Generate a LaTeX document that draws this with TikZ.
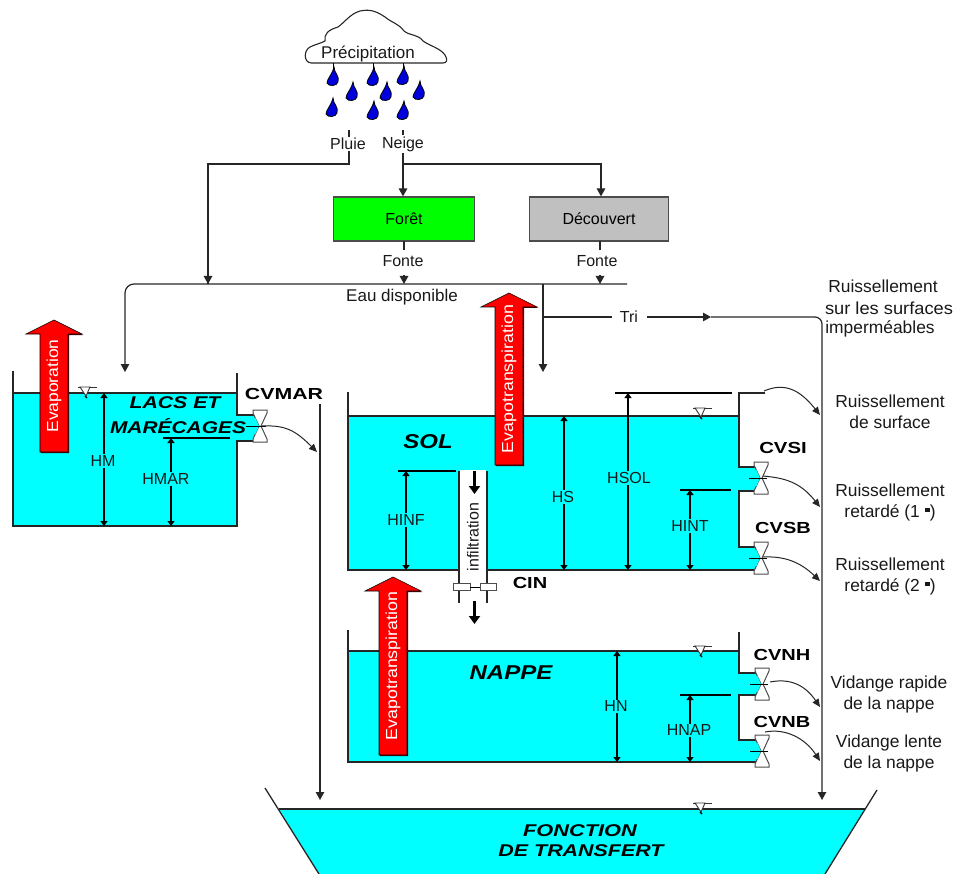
\documentclass[tikz,border=0pt]{standalone}
\usepackage{fontspec}
\usepackage{graphicx}
\setmainfont{Liberation Sans}
\usetikzlibrary{arrows.meta,calc}
\definecolor{water}{RGB}{0,255,255}
\definecolor{greenbox}{RGB}{0,255,0}
\definecolor{greybox}{RGB}{192,192,192}
\definecolor{dropblue}{RGB}{0,0,220}
\newcommand{\wide}[2]{\scalebox{#1}[1]{#2}}
\newcommand{\blob}{\raisebox{5pt}{\rule{5pt}{4pt}}}
\newcommand{\redarr}[6]{% name, x centre, tip y, bottom y, text, text y
  \path[fill=black!70!red] (#2+1,#3+1) -- (#2+29,#3+15) -- (#2+15,#3+15) -- (#2+15,#4+1) -- (#2-13,#4+1) -- cycle;
  \draw[fill=red,draw=black,line width=.6pt] (#2,#3) -- (#2+28,#3+14) -- (#2+14,#3+14) -- (#2+14,#4) -- (#2-14,#4) -- (#2-14,#3+14) -- (#2-28,#3+14) -- cycle;
  \node[txt,text=white,rotate=90] (#1) at (#2,#6) {#5};
}
\tikzset{
  txt/.style={font=\fontsize{16}{18}\selectfont,inner sep=1pt,text=black!90},
  biglab/.style={txt,font=\fontsize{17.4}{19}\selectfont},
  boldlab/.style={font=\fontsize{16}{18}\selectfont\bfseries,inner sep=0pt},
  tanktitle/.style={font=\fontsize{17}{19}\selectfont\bfseries\itshape,inner sep=0pt},
  bigtitle/.style={font=\fontsize{20}{22}\selectfont\bfseries\itshape,inner sep=0pt},
  wall/.style={draw=black!85,line width=1.3pt},
  conn/.style={draw=black!85,line width=1.2pt},
  arr/.style={conn,-{Triangle[width=8.5pt,length=8pt]}},
  fat/.style={draw=black,line width=3pt,-{Triangle[width=11pt,length=8pt]}},
  dimen/.style={draw=black,line width=1.2pt,{Triangle[width=7pt,length=5pt]}-{Triangle[width=7pt,length=5pt]}},
  dimlab/.style={txt,fill=water,inner sep=1pt},
  procbox/.style={draw=black!70,line width=1.2pt,minimum height=44pt,font=\fontsize{16}{18}\selectfont,inner sep=0pt},
  outflow/.style={draw=black!85,line width=1pt,-{Triangle[width=7pt,length=8pt]}},
  valve/.pic={
    \draw[draw=black!70,fill=white,line width=1pt] (-7,-16) -- (7,-16) -- (7,-13) -- (1,0) -- (7,13) -- (7,16) -- (-7,16) -- (-7,13) -- (-1,0) -- (-7,-13) -- cycle;
    \path[fill=water] (-1,0) -- (-5,-9) -- (-5,9) -- cycle;
    \draw[black,line width=1pt] (-12,0) -- (6,0);
  },
  drop/.pic={
    \draw[fill=dropblue,draw=black,line width=.8pt] (1,-12) .. controls (1,-6) and (7,-3) .. (5,3) .. controls (4,7) and (-4,8) .. (-6,4) .. controls (-6,0) and (-1,-4) .. (1,-12) -- cycle;
  },
  level/.pic={
    \draw[black!80,line width=1pt] (-9,0) -- (10,0);
    \draw[black!80,fill=white,line width=.9pt] (-7,0) -- (3,0) -- (-1,9) -- cycle;
    \draw[black,line width=1.4pt] (-2,9) -- (0,11);
  }
}
\begin{document}
\begin{tikzpicture}[x=1pt,y=-1pt]
\useasboundingbox (0,0) rectangle (955,874);

% ---- water bodies
\path[fill=water] (13,393) rectangle (237,526);
\path[fill=water] (237,415) rectangle (259,441);
\path[fill=water] (348,416) rectangle (739,570);
\path[fill=water] (739,467) rectangle (760,491);
\path[fill=water] (739,547) rectangle (760,570);
\path[fill=water] (348,651) rectangle (739,762);
\path[fill=water] (739,673) rectangle (760,695);
\path[fill=water] (739,740) rectangle (760,762);
\path[fill=water] (279,809) -- (865,809) -- (825,874) -- (319,874) -- cycle;

% ---- cloud
\draw[draw=black!85,fill=white,line width=1.1pt] (311,63) .. controls (303,62) and (304,50) .. (310,47) .. controls (316,44) and (322,43) .. (325,41) .. controls (324,34) and (328,30) .. (338,27) .. controls (345,22) and (350,14) .. (360,11) .. controls (370,9) and (376,11) .. (385,17) .. controls (392,23) and (398,23) .. (404,31) .. controls (410,36) and (418,34) .. (423,41) .. controls (430,46) and (440,48) .. (445,55) .. controls (448,60) and (447,63) .. (443,63) -- cycle;
\node[txt,font=\fontsize{17}{18}\selectfont] (prec) at (368,54) {Précipitation};

% ---- drops
\draw[black,line width=1pt] (333,63) -- (333,72) (373,63) -- (373,70) (403,63) -- (403,70);
\foreach \dx/\dy in {333/79,373/79,403/78,352/94,386/94,419/93,332/110,373/113,403/113}
  \pic at (\dx,\dy) {drop};

% ---- top labels and feeders
\node[txt] (pluie) at (348,144) {Pluie};
\node[txt] (neige) at (403,144) {Neige};
\coordinate (ptick) at (349,130);
\coordinate (ntick) at (403,130);
\draw[conn] (ptick) -- (pluie.north-|ptick);
\draw[conn] (ntick) -- (neige.north);
\node[procbox,fill=greenbox,minimum width=141pt] (foret) at (404,219) {Forêt};
\node[procbox,fill=greybox,minimum width=139pt] (decouvert) at (599,219) {Découvert};
\node[txt] (fonte1) at (403,261) {Fonte};
\node[txt] (fonte2) at (597,261) {Fonte};
\coordinate (bus) at (627,284);
\coordinate (pluieelbow) at (208,164);
\coordinate (buspluie) at (208,284);
\coordinate (neigeelbow) at (403,164);
\coordinate (decelbow) at (601,164);
\coordinate (busL) at (125,284);
\coordinate (lakein) at (125,372);
\coordinate (solin) at (543,372);
\coordinate (busS) at (543,284);
\coordinate (triS) at (543,317);
\coordinate (f1top) at (404,241);
\coordinate (f1bot) at (404,250);
\coordinate (f1st) at (404,275);
\coordinate (f1bus) at (404,284);
\coordinate (f2top) at (600,241);
\coordinate (f2bot) at (600,250);
\coordinate (f2st) at (600,275);
\coordinate (f2bus) at (600,284);
\draw[conn] (pluie.south-|ptick) -- (ptick|-pluieelbow) -- (pluieelbow) -- (buspluie);
\draw[arr] (buspluie) ++(0,-8) -- (buspluie);
\draw[arr] (neige.south) -- (foret.north-|neige.south);
\draw[arr] (neigeelbow) -- (decelbow) -- (decouvert.north-|decelbow);
\draw[conn] (f1top) -- (f1bot);
\draw[conn] (f2top) -- (f2bot);
\draw[arr] (f1st) -- (f1bus);
\draw[arr] (f2st) -- (f2bus);
\draw[conn,rounded corners=9pt,-{Triangle[width=8.5pt,length=8pt]}] (bus) -- (busL) -- (lakein);
\draw[arr] (busS) -- (solin);
\node[txt,font=\fontsize{17}{18}\selectfont] (eau) at (402,297) {Eau disponible};

% ---- Tri line
\node[txt] (tri) at (629,317) {Tri};
\coordinate (trigapA) at (612,317);
\coordinate (trigapB) at (647,317);
\coordinate (trimid) at (711,317);
\coordinate (triend) at (822,800);
\coordinate (tricorner) at (822,317);
\draw[conn] (triS) -- (trigapA);
\draw[arr] (trigapB) -- (trimid);
\draw[conn,rounded corners=7pt,-{Triangle[width=8.5pt,length=8pt]}] (trimid) -- (tricorner) -- (triend);
\node[biglab] (imp1) at (883,286) {Ruissellement};
\node[biglab] (imp2) at (889,308) {\wide{1.05}{sur les surfaces}};
\node[biglab] (imp3) at (880,329) {imperméables};

% ---- lake tank
\coordinate (l1) at (13,371);
\coordinate (l2) at (13,526);
\coordinate (l3) at (237,526);
\coordinate (l4) at (237,441);
\coordinate (l5) at (256,441);
\coordinate (l6) at (256,415);
\coordinate (l7) at (237,415);
\coordinate (l8) at (237,373);
\draw[wall] (l1) -- (l2) -- (l3) -- (l4) -- (l5);
\draw[wall] (l6) -- (l7) -- (l8);
\draw[wall] (13,393) -- (237,393);
\redarr{evap}{54}{320}{452}{\wide{1.09}{Evaporation}}{386}
\pic at (87,387) {level};
\coordinate (hmT) at (104,393);
\coordinate (hmB) at (104,526);
\draw[dimen] (hmT) -- (hmB);
\node[dimlab] (hm) at (103,461) {HM};
\coordinate (hmarT) at (171,438);
\coordinate (hmarB) at (171,526);
\draw[black,line width=1.2pt] (163,438) -- (230,438);
\draw[dimen] (hmarT) -- (hmarB);
\node[dimlab] (hmar) at (166,479) {HMAR};
\node[tanktitle] (lacs) at (175,403) {\wide{1.25}{LACS ET}};
\node[tanktitle] (mar) at (178,426) {\wide{1.23}{MARÉCAGES}};
\pic at (260,426) {valve};
\draw[black,line width=1pt] (mar.east) -- (250,426);
\node[boldlab] (cvmar) at (284,394) {\wide{1.33}{CVMAR}};
\coordinate (marA) at (262,426);
\coordinate (marB) at (317,452);
\draw[outflow] (marA) .. controls (285,425) and (295,430) .. (marB);
\coordinate (marS) at (320,404);
\coordinate (marE) at (320,800);
\draw[arr] (marS) -- (marE);

% ---- sol tank
\coordinate (s1) at (348,392);
\coordinate (s2) at (348,570);
\coordinate (s3) at (756,570);
\draw[wall] (s1) -- (s2) -- (s3);
\draw[wall] (348,416) -- (739,416);
\draw[wall] (765,393) -- (739,393) -- (739,467) -- (756,467);
\draw[wall] (756,491) -- (739,491) -- (739,547) -- (756,547);
\draw[black,line width=1.2pt] (615,393) -- (732,393);
\pic at (702,408) {level};
\redarr{evapo1}{509}{293}{465}{\wide{1.11}{Evapotranspiration}}{379}
% infiltration column
\path[fill=white] (460,470) rectangle (486,586);
\draw[wall] (459,471) -- (459,603);
\draw[wall] (487,471) -- (487,603);
\coordinate (f1a) at (474.5,471);
\coordinate (f1b) at (474.5,494);
\draw[fat] (f1a) -- (f1b);
\node[txt,rotate=90] (infil) at (473,537) {infiltration};
\draw[black!70,fill=white,line width=.9pt] (453,583.5) rectangle (470,590.5);
\draw[black!70,fill=white,line width=.9pt] (480,583.5) rectangle (496,590.5);
\draw[black,line width=1pt] (470,587) -- (480,587);
\coordinate (f2a) at (474.5,601);
\coordinate (f2b) at (474.5,624);
\draw[fat] (f2a) -- (f2b);
\node[boldlab] (cin) at (530,583) {\wide{1.25}{CIN}};
\node[bigtitle] (sol) at (428,442) {\wide{1.2}{SOL}};

\draw[black,line width=1.2pt] (398,471) -- (456,471);
\coordinate (hiT) at (406,471);
\coordinate (hiB) at (406,570);
\draw[dimen] (hiT) -- (hiB);
\node[dimlab] (hinf) at (406,520) {HINF};
\coordinate (hsT) at (564,416);
\coordinate (hsB) at (564,570);
\draw[dimen] (hsT) -- (hsB);
\node[dimlab] (hs) at (563,497) {HS};
\coordinate (hsolT) at (628,393);
\coordinate (hsolB) at (628,570);
\draw[dimen] (hsolT) -- (hsolB);
\node[dimlab] (hsol) at (629,478) {HSOL};
\draw[black,line width=1.2pt] (680,490) -- (731,490);
\coordinate (hintT) at (690,490);
\coordinate (hintB) at (690,570);
\draw[dimen] (hintT) -- (hintB);
\node[dimlab] (hint) at (690,526) {HINT};
\pic at (761,478) {valve};
\pic at (761,558) {valve};
\node[boldlab] (cvsi) at (783,448) {\wide{1.27}{CVSI}};
\node[boldlab] (cvsb) at (783,528) {\wide{1.25}{CVSB}};
\coordinate (o1a) at (764,391);
\coordinate (o1b) at (820,415);
\coordinate (o2a) at (763,476);
\coordinate (o2b) at (820,507);
\coordinate (o3a) at (763,557);
\coordinate (o3b) at (820,581);
\draw[outflow] (o1a) .. controls (785,382) and (800,390) .. (o1b);
\draw[outflow] (o2a) .. controls (785,478) and (800,482) .. (o2b);
\draw[outflow] (o3a) .. controls (785,556) and (800,562) .. (o3b);
\node[biglab,align=center] (r1) at (890,411.5) {Ruissellement\\[2pt]de surface};
\node[biglab,align=center] (r2) at (890,502) {Ruissellement\\[2pt]retardé (1 \blob)};
\node[biglab,align=center] (r3) at (890,576) {Ruissellement\\[2pt]retardé (2 \blob)};

% ---- nappe tank
\coordinate (n1) at (348,630);
\coordinate (n2) at (348,762);
\coordinate (n3) at (756,762);
\draw[wall] (n1) -- (n2) -- (n3);
\draw[wall] (348,651) -- (739,651);
\draw[wall] (739,632) -- (739,673) -- (756,673);
\draw[wall] (756,695) -- (739,695) -- (739,740) -- (756,740);
\pic at (702,646) {level};
\redarr{evapo2}{393}{577}{755}{\wide{1.11}{Evapotranspiration}}{666}
\node[bigtitle] (nappe) at (511,673) {\wide{1.2}{NAPPE}};
\coordinate (hnT) at (617,651);
\coordinate (hnB) at (617,762);
\draw[dimen] (hnT) -- (hnB);
\node[dimlab] (hn) at (616,706) {HN};
\draw[black,line width=1.2pt] (680,695) -- (731,695);
\coordinate (hnapT) at (690,695);
\coordinate (hnapB) at (690,762);
\draw[dimen] (hnapT) -- (hnapB);
\node[dimlab] (hnap) at (689,730) {HNAP};
\pic at (762,684) {valve};
\pic at (762,751) {valve};
\node[boldlab] (cvnh) at (782,655) {\wide{1.25}{CVNH}};
\node[boldlab] (cvnb) at (782,722) {\wide{1.25}{CVNB}};
\coordinate (o4a) at (770,682);
\coordinate (o4b) at (820,707);
\coordinate (o5a) at (765,732);
\coordinate (o5b) at (820,761);
\draw[outflow] (o4a) .. controls (790,678) and (805,685) .. (o4b);
\draw[outflow] (o5a) .. controls (785,728) and (805,738) .. (o5b);
\node[biglab,align=center] (v1) at (889,694.5) {Vidange rapide\\[2pt]de la nappe};
\node[biglab,align=center] (v2) at (889,753.5) {Vidange lente\\[2pt]de la nappe};

% ---- transfer funnel
\draw[wall] (265,788) -- (319,874);
\draw[wall] (877,790) -- (825,874);
\draw[wall] (279,809) -- (865,809);
\pic at (702,803) {level};
\node[tanktitle] (fct) at (580,831) {\wide{1.28}{FONCTION}};
\node[tanktitle] (tr) at (581,851) {\wide{1.26}{DE TRANSFERT}};
\end{tikzpicture}
\end{document}
